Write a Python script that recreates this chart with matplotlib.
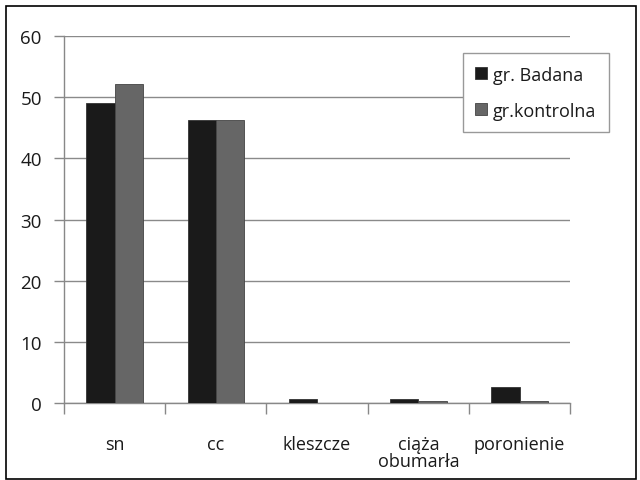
import matplotlib.pyplot as plt
import numpy as np
from matplotlib.patches import Rectangle

plt.rcParams['font.family'] = ['Open Sans', 'DejaVu Sans']

categories = ['sn', 'cc', 'kleszcze', 'ciąża\nobumarła', 'poronienie']
badana = [49.0, 46.2, 0.7, 0.7, 2.7]
kontrolna = [52.1, 46.3, 0.0, 0.4, 0.4]
series_names = ['gr. Badana', 'gr.kontrolna']

fig = plt.figure(figsize=(6.4, 4.81), dpi=100)
ax = fig.add_axes([0.1, 0.16, 0.791, 0.763])

x = np.arange(len(categories))
w = 0.28
ax.bar(x - w/2, badana, w, color='#1a1a1a', edgecolor='#333333', linewidth=0.6,
       label=series_names[0], zorder=3)
ax.bar(x + w/2, kontrolna, w, color='#666666', edgecolor='#444444', linewidth=0.6,
       label=series_names[1], zorder=3)

ax.set_xlim(-0.5, len(categories) - 0.5)
ax.set_ylim(0, 60)
ax.set_yticks(np.arange(0, 61, 10))
ax.yaxis.grid(True, color='#8a8a8a', linewidth=1.0, zorder=0)

# x ticks at category boundaries, labels centred
ax.set_xticks(np.arange(-0.5, len(categories), 1.0))
ax.set_xticklabels([])
ax.set_xticks(x, minor=True)
ax.set_xticklabels(categories, minor=True, fontsize=13, linespacing=0.95, va='top',
                   color='#1a1a1a')
ax.tick_params(axis='x', which='minor', length=0, pad=23)
ax.tick_params(axis='x', which='major', length=8, direction='out', color='#888888', width=1)
ax.tick_params(axis='y', length=7, direction='out', color='#888888', width=1,
               labelsize=13.5, labelcolor='#1a1a1a', pad=9)

for s in ['top', 'right']:
    ax.spines[s].set_visible(False)
for s in ['left', 'bottom']:
    ax.spines[s].set_color('#888888')
    ax.spines[s].set_linewidth(1.0)

leg = ax.legend(loc='upper right', bbox_to_anchor=(1.077, 0.954), fontsize=13,
                handlelength=0.65, handleheight=0.65, handletextpad=0.35,
                labelspacing=1.0, borderpad=0.7, fancybox=False, framealpha=1,
                edgecolor='#999999', borderaxespad=0)
leg.get_frame().set_linewidth(1.0)
for t in leg.get_texts():
    t.set_color('#1a1a1a')

# outer border of the picture
fig.patches.append(Rectangle((0.009, 0.003), 0.985, 0.983, transform=fig.transFigure,
                             fill=False, edgecolor='black', linewidth=1.2))

fig.savefig('out.png', dpi=100)
